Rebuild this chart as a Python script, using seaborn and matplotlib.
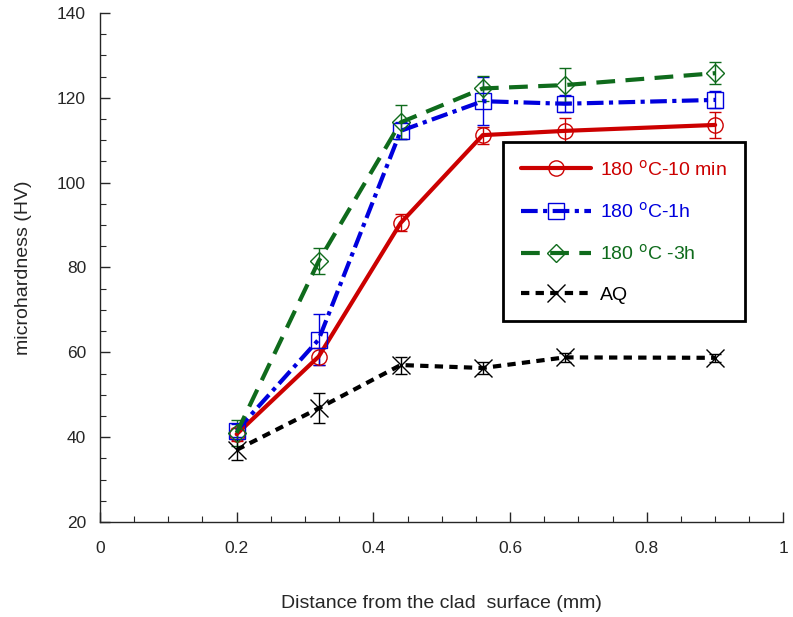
import numpy as np
import pandas as pd
import matplotlib
matplotlib.use("Agg")
import matplotlib.pyplot as plt
from matplotlib.ticker import MultipleLocator
import seaborn as sns

# distance from clad surface (mm)
distance = [0.2, 0.32, 0.44, 0.56, 0.68, 0.9]

# microhardness (HV) for each condition
hv_10min = [40.7, 59.0, 90.5, 111.2, 112.2, 113.6]
hv_1h = [41.5, 63.0, 112.2, 119.2, 118.6, 119.5]
hv_3h = [41.0, 81.5, 114.2, 122.2, 123.0, 125.8]
hv_aq = [37.0, 46.8, 57.0, 56.3, 58.8, 58.7]

# error bar half-widths
err_10min = [1.5, 2.0, 2.0, 2.0, 3.0, 3.0]
err_1h = [1.5, 6.0, 2.0, 5.7, 2.0, 2.0]
err_3h = [3.0, 3.0, 4.0, 3.0, 4.0, 2.6]
err_aq = [2.5, 3.5, 2.0, 1.5, 1.0, 1.0]

labels = ["180 $^{\\rm o}$C-10 min", "180 $^{\\rm o}$C-1h", "180 $^{\\rm o}$C -3h", "AQ"]
colors = ["#cc0000", "#0000dd", "#0f6b1c", "#000000"]
markers = ["o", "s", "D", "x"]
msizes = [11, 11, 9, 13]
dash_styles = ["-", (0, (4, 1.3, 1, 1.3)), (0, (4.5, 2.5)), (0, (2, 1.5))]

series = [hv_10min, hv_1h, hv_3h, hv_aq]
errors = [err_10min, err_1h, err_3h, err_aq]

sns.set_style("ticks")
plt.rcParams['font.family'] = ['Liberation Sans', 'DejaVu Sans']

fig = plt.figure(figsize=(7.93, 6.17), dpi=100)
ax = fig.add_axes([0.126, 0.154, 0.862, 0.825])

handles = []
for lab, y, e, c, m, ms, ls in zip(labels, series, errors, colors, markers, msizes, dash_styles):
    df = pd.DataFrame({"x": distance, "y": y})
    ax.errorbar(distance, y, yerr=e, fmt="none", ecolor=c, elinewidth=1, capsize=4, capthick=1, zorder=2)
    sns.lineplot(data=df, x="x", y="y", ax=ax, color=c, linewidth=3, linestyle=ls,
                 marker=m, markersize=ms, mfc="none", mec=c, mew=1, zorder=3)
    line = ax.lines[-1]
    line.set_label(lab)
    handles.append(line)

ax.set_xlim(0, 1)
ax.set_ylim(20, 140)
ax.xaxis.set_major_locator(MultipleLocator(0.2))
ax.xaxis.set_minor_locator(MultipleLocator(0.05))
ax.yaxis.set_major_locator(MultipleLocator(20))
ax.yaxis.set_minor_locator(MultipleLocator(5))
ax.set_xticks([0, 0.2, 0.4, 0.6, 0.8, 1.0])
ax.set_xticklabels(["0", "0.2", "0.4", "0.6", "0.8", "1"])
ax.tick_params(which="major", direction="in", length=7, width=1, labelsize=12.5, pad=14)
ax.tick_params(which="minor", direction="in", length=4, width=0.8)
ax.tick_params(axis="y", which="major", pad=10)
sns.despine(ax=ax)
for sp in ["left", "bottom"]:
    ax.spines[sp].set_linewidth(1)

ax.set_xlabel("Distance from the clad  surface (mm)", fontsize=14, labelpad=28)
ax.set_ylabel("microhardness (HV)", fontsize=14, labelpad=18)

leg = ax.legend(handles=handles, loc="upper left", bbox_to_anchor=(0.59, 0.747),
                fontsize=14, frameon=True, fancybox=False, edgecolor="black", framealpha=1,
                handlelength=3.6, labelspacing=1.15, borderpad=0.9, handletextpad=0.5,
                borderaxespad=0)
leg.get_frame().set_linewidth(2)
for txt, c in zip(leg.get_texts(), colors):
    txt.set_color(c)

fig.savefig("out.png", dpi=100)
